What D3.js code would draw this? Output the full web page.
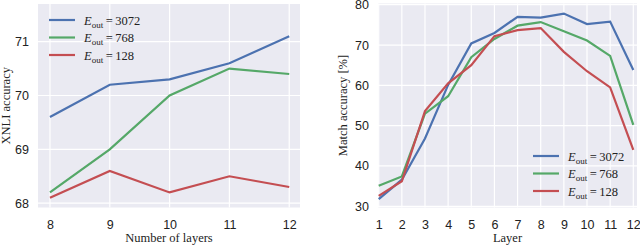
<!DOCTYPE html>
<meta charset="utf-8">
<style>
    body { margin: 0; background: white; }
    svg { font-family: "Liberation Serif", "DejaVu Serif", serif; }
    .grid line { stroke: white; stroke-width: 1.2; }
    .tick text { font-size: 12.5px; fill: #222; }
    .label { font-size: 12.5px; fill: #222; }
    .leg { font-size: 12.5px; fill: #222; }
</style>
<body>
<script src="https://d3js.org/d3.v7.min.js"></script>
<script>
    // left panel: XNLI accuracy vs number of layers
    const layersL = [8, 9, 10, 11, 12];
    const xnli3072 = [69.6, 70.2, 70.3, 70.6, 71.1];
    const xnli768 = [68.2, 69.0, 70.0, 70.5, 70.4];
    const xnli128 = [68.1, 68.6, 68.2, 68.5, 68.3];
    const yTicksL = [68, 69, 70, 71];

    // right panel: match accuracy per layer
    const layersR = [1, 2, 3, 4, 5, 6, 7, 8, 9, 10, 11, 12];
    const match3072 = [31.8, 36.6, 46.8, 60.1, 70.4, 73.0, 77.0, 76.8, 77.8, 75.2, 75.8, 63.8];
    const match768 = [35.1, 37.4, 53.0, 57.3, 67.0, 71.5, 74.8, 75.7, 73.4, 71.1, 67.3, 50.2];
    const match128 = [32.6, 36.2, 53.6, 60.5, 65.0, 72.2, 73.7, 74.2, 68.3, 63.5, 59.5, 44.0];
    const yTicksR = [30, 40, 50, 60, 70, 80];

    const legendLabels = ["3072", "768", "128"];
    const colors = ["#4C72B0", "#55A868", "#C44E52"];

    const svg = d3.select("body").append("svg")
        .attr("width", 640)
        .attr("height", 246);

    function panel(opts) {
        const x = d3.scaleLinear().domain(opts.xDomain).range([opts.left, opts.right]);
        const y = d3.scaleLinear().domain(opts.yDomain).range([opts.bottom, opts.top]);
        const g = svg.append("g");

        g.append("rect")
            .attr("x", opts.left).attr("y", opts.top)
            .attr("width", opts.right - opts.left)
            .attr("height", opts.bottom - opts.top)
            .attr("fill", "#EAEAF2");

        // grid
        const grid = g.append("g").attr("class", "grid");
        grid.selectAll(".vx").data(opts.xTicks).enter().append("line")
            .attr("x1", d => x(d)).attr("x2", d => x(d))
            .attr("y1", opts.top).attr("y2", opts.bottom);
        grid.selectAll(".hy").data(opts.yTicks).enter().append("line")
            .attr("x1", opts.left).attr("x2", opts.right)
            .attr("y1", d => y(d)).attr("y2", d => y(d));

        // axes (labels only, no lines)
        const xAxis = g.append("g")
            .attr("transform", "translate(0," + opts.bottom + ")")
            .call(d3.axisBottom(x).tickValues(opts.xTicks).tickFormat(d3.format("d"))
                .tickSize(0).tickPadding(13));
        xAxis.select(".domain").remove();
        const yAxis = g.append("g")
            .attr("transform", "translate(" + opts.left + ",0)")
            .call(d3.axisLeft(y).tickValues(opts.yTicks).tickFormat(d3.format("d"))
                .tickSize(0).tickPadding(9));
        yAxis.select(".domain").remove();
        g.selectAll(".tick text").attr("font-family", null).attr("font-size", null);

        g.append("text").attr("class", "label")
            .attr("x", (opts.left + opts.right) / 2).attr("y", 242)
            .attr("text-anchor", "middle")
            .text(opts.xLabel);
        g.append("text").attr("class", "label")
            .attr("transform", "translate(" + opts.yLabelX + "," + (opts.top + opts.bottom) / 2 + ") rotate(-90)")
            .attr("text-anchor", "middle")
            .text(opts.yLabel);

        const line = d3.line().x((d, i) => x(opts.xs[i])).y(d => y(d));
        g.selectAll(".series").data(opts.series).enter().append("path")
            .attr("d", d => line(d))
            .attr("fill", "none")
            .attr("stroke", (d, i) => colors[i])
            .attr("stroke-width", 2.2);

        // legend
        const leg = g.selectAll(".legend").data(legendLabels).enter().append("g")
            .attr("transform", (d, i) => "translate(" + opts.legX + "," + (opts.legY + i * 17.5) + ")");
        leg.append("line")
            .attr("x1", 0).attr("x2", 26)
            .attr("stroke", (d, i) => colors[i])
            .attr("stroke-width", 2.2);
        const t = leg.append("text").attr("class", "leg")
            .attr("x", 35).attr("y", 4.5);
        t.append("tspan").attr("font-style", "italic").text("E");
        t.append("tspan").attr("font-size", "9px").attr("dy", 3).text("out");
        t.append("tspan").attr("dy", -3).text("\u2009=\u2009" );
        t.append("tspan").text(d => d);
    }

    panel({
        left: 38, right: 300, top: 4, bottom: 207.5,
        xDomain: [7.8, 12.18], yDomain: [67.92, 71.7],
        xTicks: layersL, yTicks: yTicksL,
        xs: layersL, series: [xnli3072, xnli768, xnli128],
        xLabel: "Number of layers", yLabel: "XNLI accuracy", yLabelX: 10,
        legX: 49, legY: 20
    });

    panel({
        left: 378, right: 637, top: 3.5, bottom: 207.5,
        xDomain: [0.97, 12.16], yDomain: [29.7, 80.3],
        xTicks: layersR, yTicks: yTicksR,
        xs: layersR, series: [match3072, match768, match128],
        xLabel: "Layer", yLabel: "Match accuracy [%]", yLabelX: 347,
        legX: 533, legY: 156
    });
</script>
</body>
